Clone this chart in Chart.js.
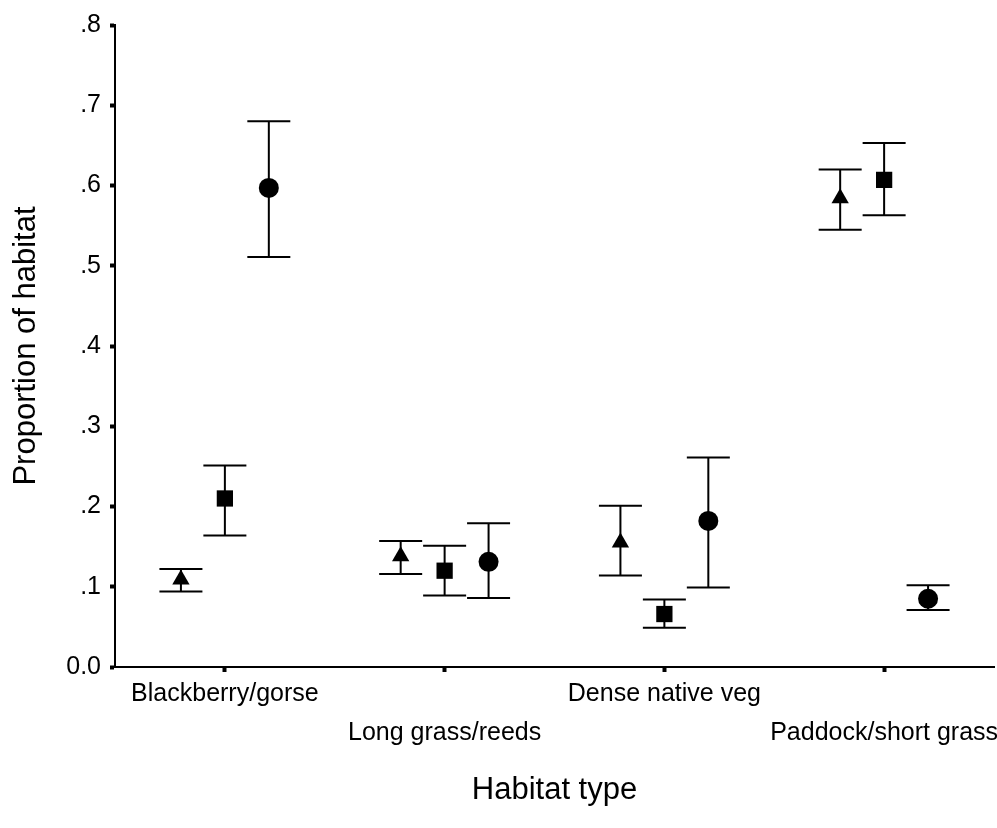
<!DOCTYPE html>
<html>
<head>
<meta charset="utf-8">
<script src="https://cdn.jsdelivr.net/npm/chart.js@4/dist/chart.umd.min.js"></script>
<style>
  html, body { margin: 0; padding: 0; background: #fff; }
  #wrap { width: 997px; height: 828px; }
</style>
</head>
<body>
<div id="wrap"><canvas id="habitatChart"></canvas></div>
<script>
// habitat categories on the x axis
const categories = ["Blackberry/gorse", "Long grass/reeds", "Dense native veg", "Paddock/short grass"];

// triangle series
const triMean = [0.109, 0.138, 0.155, 0.584];
const triLow = [0.094, 0.116, 0.114, 0.545];
const triHigh = [0.122, 0.157, 0.201, 0.620];

// square series
const sqMean = [0.210, 0.120, 0.066, 0.607];
const sqLow = [0.164, 0.089, 0.049, 0.563];
const sqHigh = [0.251, 0.151, 0.084, 0.653];

// circle series
const circMean = [0.597, 0.131, 0.182, 0.085];
const circLow = [0.511, 0.086, 0.099, 0.071];
const circHigh = [0.680, 0.179, 0.261, 0.102];

// y tick labels
const yTicks = [0, 0.1, 0.2, 0.3, 0.4, 0.5, 0.6, 0.7, 0.8];
const yTickLabels = ["0.0", ".1", ".2", ".3", ".4", ".5", ".6", ".7", ".8"];

const shift = 0.2; // horizontal offset of the side markers

function makePoints(means, lows, highs, dx) {
  return means.map((m, i) => ({ x: i + dx, y: m, lo: lows[i], hi: highs[i] }));
}

// error bars drawn through the chart scales
const errorBars = {
  id: "errorBars",
  beforeDatasetsDraw(chart) {
    const ctx = chart.ctx;
    const xs = chart.scales.x;
    const ys = chart.scales.y;
    ctx.save();
    ctx.strokeStyle = "#000";
    ctx.lineWidth = 2;
    chart.data.datasets.forEach(ds => {
      ds.data.forEach(p => {
        const px = xs.getPixelForValue(p.x);
        const top = ys.getPixelForValue(p.hi);
        const bot = ys.getPixelForValue(p.lo);
        ctx.beginPath();
        ctx.moveTo(px, top);
        ctx.lineTo(px, bot);
        ctx.moveTo(px - 21.5, top);
        ctx.lineTo(px + 21.5, top);
        ctx.moveTo(px - 21.5, bot);
        ctx.lineTo(px + 21.5, bot);
        ctx.stroke();
      });
    });
    ctx.restore();
  }
};

const tickFont = { family: "'Liberation Sans', Arial, sans-serif", size: 25 };
const titleFont = { family: "'Liberation Sans', Arial, sans-serif", size: 31 };

new Chart(document.getElementById("habitatChart"), {
  type: "scatter",
  data: {
    datasets: [
      {
        label: "triangle",
        data: makePoints(triMean, triLow, triHigh, -shift),
        pointStyle: "triangle",
        radius: 10,
        backgroundColor: "#000",
        borderColor: "#000",
        borderWidth: 0
      },
      {
        label: "square",
        data: makePoints(sqMean, sqLow, sqHigh, 0),
        pointStyle: "rect",
        radius: 11.5,
        backgroundColor: "#000",
        borderColor: "#000",
        borderWidth: 0
      },
      {
        label: "circle",
        data: makePoints(circMean, circLow, circHigh, shift),
        pointStyle: "circle",
        radius: 10,
        backgroundColor: "#000",
        borderColor: "#000",
        borderWidth: 0
      }
    ]
  },
  options: {
    responsive: true,
    maintainAspectRatio: false,
    animation: false,
    events: [],
    layout: { autoPadding: false, padding: { top: 25, right: 3, left: 0, bottom: 0 } },
    plugins: {
      legend: { display: false },
      tooltip: { enabled: false }
    },
    scales: {
      x: {
        type: "linear",
        min: -0.5,
        max: 3.5,
        afterBuildTicks(scale) {
          scale.ticks = categories.map((c, i) => ({ value: i }));
        },
        afterFit(scale) {
          scale.height = 161;
          scale.paddingLeft = 0;
          scale.paddingRight = 0;
        },
        ticks: {
          autoSkip: false,
          maxRotation: 0,
          minRotation: 0,
          padding: 3,
          color: "#000",
          font: Object.assign({ lineHeight: 1.56 }, tickFont),
          callback: (v, i) => (i % 2 === 0 ? [categories[i], ""] : ["", categories[i]])
        },
        grid: {
          drawOnChartArea: false,
          tickLength: 5,
          tickWidth: 4,
          tickColor: "#000"
        },
        border: { display: true, color: "#000", width: 2 },
        title: {
          display: true,
          text: "Habitat type",
          color: "#000",
          font: titleFont,
          padding: { top: 0, bottom: 19 }
        }
      },
      y: {
        min: 0,
        max: 0.8,
        afterBuildTicks(scale) {
          scale.ticks = yTicks.map(v => ({ value: v }));
        },
        afterFit(scale) {
          scale.width = 115;
        },
        ticks: {
          padding: 9,
          color: "#000",
          font: tickFont,
          callback: (v, i) => yTickLabels[i]
        },
        grid: {
          drawOnChartArea: false,
          tickLength: 5,
          tickWidth: 4,
          tickColor: "#000"
        },
        border: { display: true, color: "#000", width: 2 },
        title: {
          display: true,
          text: "Proportion of habitat",
          color: "#000",
          font: titleFont,
          padding: { top: 8, bottom: 0 }
        }
      }
    }
  },
  plugins: [errorBars]
});
</script>
</body>
</html>
